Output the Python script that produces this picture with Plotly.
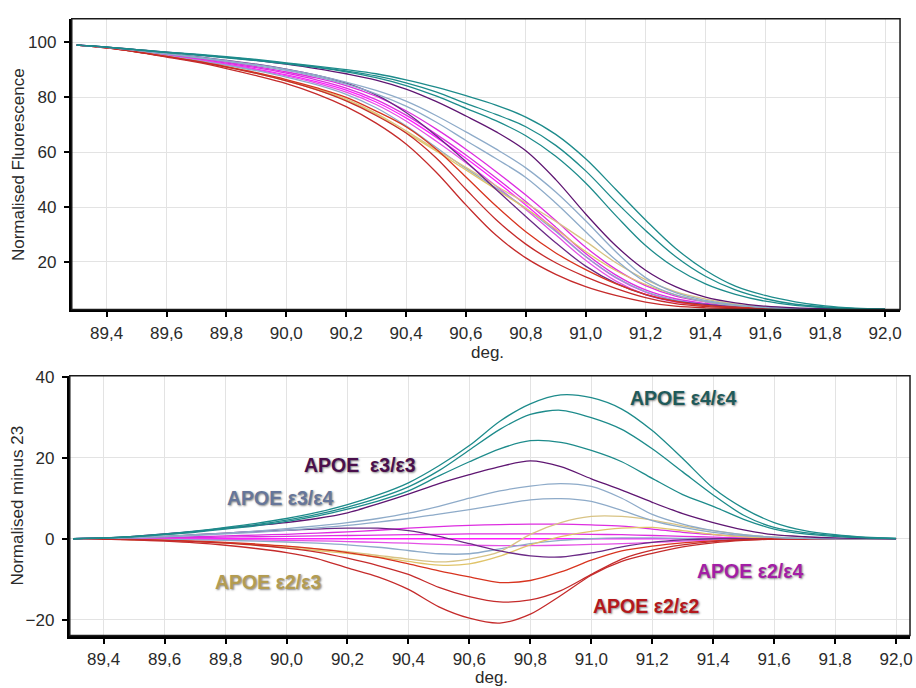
import plotly.graph_objects as go

# Melting temperature grid (deg.)
temps = [89.3, 89.4, 89.5, 89.6, 89.7, 89.8, 89.9, 90.0, 90.1, 90.2,
         90.3, 90.4, 90.5, 90.6, 90.7, 90.8, 90.9, 91.0, 91.1, 91.2,
         91.3, 91.4, 91.5, 91.6, 91.7, 91.8, 91.9, 92.0]

x_ticks = [89.4, 89.6, 89.8, 90.0, 90.2, 90.4, 90.6, 90.8, 91.0, 91.2,
           91.4, 91.6, 91.8, 92.0]
y_ticks_top = [20, 40, 60, 80, 100]
y_ticks_bottom = [-20, 0, 20, 40]

# ---- Normalised fluorescence (upper panel) ----
norm_e44_a = [99.0, 98.3, 97.4, 96.5, 95.7, 94.8, 93.8, 92.6, 91.4, 90.1, 88.6, 86.4, 83.7, 80.6,
              77.2, 72.8, 66.5, 57.6, 46.5, 35.3, 25.0, 17.0, 11.2, 7.8, 5.5, 4.0, 3.2, 2.8]
norm_e44_b = [99.0, 98.3, 97.4, 96.4, 95.6, 94.6, 93.6, 92.4, 91.1, 89.6, 87.8, 85.3, 82.0, 77.8,
              73.8, 69.3, 62.5, 53.2, 42.0, 31.5, 22.0, 14.8, 9.8, 6.6, 4.6, 3.6, 3.0, 2.8]
norm_e44_c = [99.0, 98.3, 97.3, 96.3, 95.4, 94.4, 93.4, 92.2, 90.9, 89.3, 87.2, 84.3, 80.5, 76.0,
              71.5, 66.0, 58.5, 48.8, 37.0, 26.0, 17.8, 12.0, 8.2, 5.7, 4.2, 3.4, 3.0, 2.7]
norm_e33_a = [99.0, 98.3, 97.4, 96.5, 95.6, 94.6, 93.5, 92.1, 90.5, 88.6, 86.3, 83.0, 78.5, 73.2,
              67.5, 60.5, 50.0, 37.5, 26.0, 17.0, 11.0, 7.2, 5.1, 3.9, 3.3, 3.0, 2.8, 2.7]
norm_e33_b = [99.0, 98.2, 97.1, 95.9, 94.8, 93.5, 92.1, 90.3, 88.1, 85.2, 80.9, 74.5, 66.1, 56.6,
              46.5, 36.6, 27.0, 18.5, 12.3, 8.1, 5.7, 4.5, 3.6, 3.2, 3.0, 2.9, 2.8, 2.7]
norm_e34_a = [99.0, 98.2, 97.1, 95.9, 94.7, 93.4, 91.9, 90.2, 88.1, 85.5, 82.5, 78.6, 73.4, 67.4,
              61.2, 54.3, 45.5, 35.0, 23.8, 14.3, 8.8, 6.0, 4.4, 3.5, 3.1, 2.9, 2.8, 2.7]
norm_e34_b = [99.0, 98.2, 97.1, 95.8, 94.5, 93.1, 91.6, 89.8, 87.6, 84.8, 81.3, 76.8, 71.0, 64.3,
              57.7, 50.8, 41.5, 31.0, 20.8, 12.7, 8.0, 5.6, 4.2, 3.4, 3.0, 2.9, 2.8, 2.7]
norm_e34_c = [99.0, 98.1, 96.7, 95.1, 93.5, 91.7, 89.7, 87.4, 84.6, 81.1, 76.2, 69.6, 61.8, 54.1,
              47.0, 39.6, 31.1, 22.0, 14.5, 9.2, 6.1, 4.5, 3.6, 3.2, 3.0, 2.9, 2.8, 2.7]
norm_e24_a = [99.0, 98.2, 97.0, 95.6, 94.3, 92.8, 91.2, 89.3, 87.1, 84.3, 80.4, 75.1, 68.5, 61.1,
              53.0, 44.4, 35.1, 25.4, 17.4, 11.4, 7.6, 5.5, 4.1, 3.4, 3.0, 2.9, 2.8, 2.7]
norm_e24_b = [99.0, 98.2, 96.9, 95.5, 94.1, 92.5, 90.8, 88.8, 86.4, 83.4, 79.2, 73.5, 66.6, 59.0,
              50.7, 42.0, 32.7, 23.1, 15.3, 9.8, 6.6, 4.9, 3.8, 3.3, 3.0, 2.9, 2.8, 2.7]
norm_e24_c = [99.0, 98.1, 96.8, 95.2, 93.7, 91.9, 90.0, 87.8, 85.2, 81.9, 77.4, 71.4, 64.1, 56.2,
              47.8, 39.1, 29.9, 20.6, 13.1, 8.1, 5.4, 4.2, 3.5, 3.2, 3.0, 2.9, 2.8, 2.7]
norm_ref23 = [99.0, 98.1, 96.8, 95.3, 93.8, 92.1, 90.3, 88.2, 85.7, 82.6, 78.3, 72.5, 65.5, 57.8,
              49.5, 40.8, 31.5, 22.0, 14.3, 9.0, 6.0, 4.5, 3.6, 3.2, 3.0, 2.9, 2.8, 2.7]
norm_e23_a = [99.0, 98.1, 96.6, 94.9, 93.1, 91.1, 88.9, 86.3, 83.2, 79.4, 74.2, 67.8, 61.0, 54.5,
              47.8, 41.5, 34.8, 27.5, 19.8, 13.6, 9.2, 6.5, 4.6, 3.6, 3.1, 2.9, 2.8, 2.7]
norm_e23_b = [99.0, 98.1, 96.6, 94.9, 93.1, 91.0, 88.7, 86.0, 82.8, 79.0, 73.8, 67.2, 60.5, 53.5,
              46.5, 39.5, 32.0, 23.8, 16.9, 11.8, 8.0, 5.6, 4.1, 3.4, 3.0, 2.9, 2.8, 2.7]
norm_e22_a = [99.0, 98.0, 96.5, 94.7, 92.8, 90.5, 87.9, 85.0, 81.3, 76.6, 70.6, 63.0, 52.8, 40.8,
              29.8, 21.5, 15.5, 11.0, 7.8, 5.4, 3.9, 3.3, 3.1, 3.0, 2.9, 2.8, 2.8, 2.7]
norm_e22_b = [99.0, 98.0, 96.6, 94.9, 93.1, 91.0, 88.7, 86.0, 82.8, 78.7, 73.4, 67.0, 58.0, 46.5,
              35.5, 26.5, 19.7, 14.6, 10.4, 7.0, 4.8, 3.8, 3.3, 3.1, 3.0, 2.9, 2.8, 2.7]
norm_e22_c = [99.0, 98.0, 96.6, 94.9, 93.2, 91.2, 89.0, 86.5, 83.5, 80.0, 75.0, 69.3, 61.2, 51.0,
              40.5, 31.0, 23.3, 17.2, 12.1, 8.2, 5.6, 4.2, 3.5, 3.2, 3.0, 2.9, 2.8, 2.7]

# ---- Normalised minus sample 23 (lower panel) ----
diff_e44_a = [0, 0.2, 0.6, 1.2, 1.9, 2.8, 3.8, 5.0, 6.5, 8.4, 10.8, 13.8, 18.0, 23.0,
              29.0, 33.3, 35.5, 34.8, 32.0, 26.7, 19.8, 12.5, 7.5, 4.0, 2.0, 1.0, 0.4, 0.1]
diff_e44_b = [0, 0.2, 0.6, 1.1, 1.8, 2.6, 3.5, 4.6, 6.0, 7.8, 10.0, 12.8, 16.8, 21.9,
              27.0, 30.7, 31.7, 29.9, 27.0, 22.2, 16.5, 10.8, 5.8, 2.8, 1.5, 0.8, 0.3, 0.1]
diff_e44_c = [0, 0.2, 0.5, 1.0, 1.6, 2.4, 3.2, 4.3, 5.6, 7.3, 9.3, 11.8, 15.5, 19.0,
              22.2, 24.2, 23.8, 21.8, 19.0, 14.9, 10.9, 8.0, 4.8, 2.4, 1.2, 0.6, 0.2, 0]
diff_e33_a = [0, 0.2, 0.6, 1.2, 1.8, 2.6, 3.3, 4.0, 5.0, 6.4, 8.6, 11.0, 13.6, 15.8,
              17.8, 19.2, 17.8, 14.8, 12.0, 9.0, 6.2, 4.0, 2.2, 1.0, 0.5, 0.2, 0.1, 0]
diff_e33_b = [0, 0.1, 0.3, 0.6, 1.0, 1.4, 1.8, 2.1, 2.4, 2.6, 2.6, 2.0, 0.6, -1.2,
              -3.0, -4.2, -4.5, -3.5, -2.0, -0.9, -0.3, 0, 0, 0, 0, 0, 0, 0]
diff_e34_a = [0, 0.1, 0.3, 0.6, 1.0, 1.4, 1.9, 2.5, 3.2, 4.0, 5.0, 6.3, 8.0, 10.0,
              11.8, 13.0, 13.6, 12.9, 10.0, 6.0, 3.6, 2.0, 1.0, 0.4, 0.1, 0, 0, 0]
diff_e34_b = [0, 0.1, 0.3, 0.5, 0.8, 1.2, 1.6, 2.1, 2.7, 3.3, 4.1, 5.0, 6.1, 7.2,
              8.4, 9.6, 9.9, 9.2, 7.0, 4.5, 2.8, 1.6, 0.8, 0.3, 0.1, 0, 0, 0]
diff_e34_c = [0, 0, -0.1, -0.2, -0.3, -0.4, -0.6, -0.8, -1.1, -1.5, -2.1, -2.9, -3.7, -3.7,
              -2.5, -1.2, -0.4, 0, 0.2, 0.2, 0.1, 0, 0, 0, 0, 0, 0, 0]
diff_e24_a = [0, 0.1, 0.2, 0.3, 0.5, 0.7, 0.9, 1.1, 1.4, 1.7, 2.1, 2.6, 3.0, 3.3,
              3.5, 3.6, 3.6, 3.4, 3.1, 2.4, 1.6, 1.0, 0.5, 0.2, 0, 0, 0, 0]
diff_e24_b = [0, 0.1, 0.1, 0.2, 0.3, 0.4, 0.5, 0.6, 0.7, 0.8, 0.9, 1.0, 1.1, 1.2,
              1.2, 1.2, 1.2, 1.1, 1.0, 0.8, 0.6, 0.4, 0.2, 0.1, 0, 0, 0, 0]
diff_e24_c = [0, 0, 0, -0.1, -0.1, -0.2, -0.3, -0.4, -0.5, -0.7, -0.9, -1.1, -1.4, -1.6,
              -1.7, -1.7, -1.6, -1.4, -1.2, -0.9, -0.6, -0.3, -0.1, 0, 0, 0, 0, 0]
diff_ref23 = [0, 0, 0, 0, 0, 0, 0, 0, 0, 0, 0, 0, 0, 0,
              0, 0, 0, 0, 0, 0, 0, 0, 0, 0, 0, 0, 0, 0]
diff_e23_a = [0, 0, -0.2, -0.4, -0.7, -1.0, -1.4, -1.9, -2.5, -3.2, -4.1, -5.0, -5.7, -5.0,
              -3.2, 1.1, 4.0, 5.5, 5.5, 4.6, 3.2, 2.0, 1.0, 0.4, 0.1, 0, 0, 0]
diff_e23_b = [0, 0, -0.2, -0.4, -0.7, -1.1, -1.6, -2.2, -2.9, -3.6, -4.5, -5.6, -6.5, -6.2,
              -4.3, -1.5, 0.5, 1.8, 2.6, 2.8, 2.0, 1.1, 0.5, 0.2, 0, 0, 0, 0]
diff_e22_a = [0, -0.1, -0.3, -0.6, -1.0, -1.6, -2.4, -3.4, -4.9, -7.2, -9.4, -12.5, -16.8, -19.6,
              -20.8, -18.6, -14.0, -9.0, -5.6, -3.6, -2.0, -1.0, -0.4, -0.1, 0, 0, 0, 0]
diff_e22_b = [0, -0.1, -0.2, -0.4, -0.7, -1.1, -1.6, -2.3, -3.3, -4.8, -6.6, -8.8, -12.0, -14.3,
              -15.6, -15.1, -12.8, -8.8, -5.0, -2.8, -1.5, -0.7, -0.3, -0.1, 0, 0, 0, 0]
diff_e22_c = [0, -0.1, -0.2, -0.4, -0.6, -0.9, -1.3, -1.8, -2.5, -3.4, -4.6, -6.2, -7.9, -9.4,
              -10.8, -10.3, -8.2, -5.3, -3.0, -1.8, -1.0, -0.5, -0.2, 0, 0, 0, 0, 0]

# Genotype labels placed in the difference plot
genotype_labels = ["APOE ε4/ε4", "APOE  ε3/ε3", "APOE ε3/ε4", "APOE ε2/ε3", "APOE ε2/ε4", "APOE ε2/ε2"]
label_x = [91.30, 90.24, 89.98, 89.94, 91.52, 91.18]
label_y = [34.7, 18.2, 10.0, -10.7, -8.0, -16.5]
label_colors = ["#1f5a5a", "#4a0f4c", "#66769a", "#b39c52", "#a21ea6", "#b4181c"]

TEAL = "#1d8b8b"
PURPLE = "#5f1672"
STEEL = "#8eabc9"
MAGENTA = "#dd2ee0"
PINK = "#ff1cff"
TAN = "#d8c384"
RED = "#c52b2b"
RED2 = "#d8341f"

# (upper series, lower series, colour) drawn back to front
series = [
    (norm_ref23, diff_ref23, PINK),
    (norm_e24_a, diff_e24_a, MAGENTA),
    (norm_e24_b, diff_e24_b, MAGENTA),
    (norm_e24_c, diff_e24_c, "#e451e6"),
    (norm_e34_c, diff_e34_c, STEEL),
    (norm_e23_a, diff_e23_a, TAN),
    (norm_e23_b, diff_e23_b, "#e0c46a"),
    (norm_e33_b, diff_e33_b, "#6b2a86"),
    (norm_e22_c, diff_e22_c, RED2),
    (norm_e22_b, diff_e22_b, RED),
    (norm_e22_a, diff_e22_a, RED),
    (norm_e34_b, diff_e34_b, STEEL),
    (norm_e34_a, diff_e34_a, STEEL),
    (norm_e33_a, diff_e33_a, PURPLE),
    (norm_e44_c, diff_e44_c, TEAL),
    (norm_e44_b, diff_e44_b, TEAL),
    (norm_e44_a, diff_e44_a, TEAL),
]

W, H = 916, 688
fig = go.Figure()

for top_vals, bottom_vals, col in series:
    fig.add_trace(go.Scatter(x=temps, y=top_vals, mode="lines", xaxis="x", yaxis="y",
                             line=dict(color=col, width=1.3, shape="spline", smoothing=1.0),
                             showlegend=False, hoverinfo="skip"))
    fig.add_trace(go.Scatter(x=temps, y=bottom_vals, mode="lines", xaxis="x2", yaxis="y2",
                             line=dict(color=col, width=1.3, shape="spline", smoothing=0.8),
                             showlegend=False, hoverinfo="skip"))

# plot-area pixel boxes (left, top, right, bottom)
top_box = (72, 11, 903, 305)
bot_box = (70, 372, 913, 635)


def dom_x(b):
    return [b[0] / W, b[2] / W]


def dom_y(b):
    return [1 - b[3] / H, 1 - b[1] / H]


axis_font = dict(family="Liberation Sans, Arial, sans-serif", size=17, color="#2a2a2a")

common_x = dict(tickmode="array", tickvals=x_ticks, tickformat=".1f", showgrid=True,
                gridcolor="#e3e3e3", gridwidth=1, zeroline=False, showline=True,
                linecolor="#000000", linewidth=3, ticks="outside", ticklen=5, tickwidth=2,
                tickcolor="#000000", tickfont=axis_font, ticklabelstandoff=1)
common_y = dict(tickmode="array", showgrid=True, gridcolor="#e3e3e3", gridwidth=1,
                zeroline=False, showline=True, linecolor="#000000", linewidth=3,
                ticks="outside", ticklen=5, tickwidth=2, tickcolor="#000000",
                tickfont=axis_font, ticklabelstandoff=4)

fig.update_layout(
    width=W, height=H,
    margin=dict(l=0, r=0, t=0, b=0),
    paper_bgcolor="white", plot_bgcolor="white",
    separators=",.",
    showlegend=False,
    xaxis=dict(common_x, domain=dom_x(top_box), range=[89.2835, 92.05], anchor="y"),
    yaxis=dict(common_y, domain=dom_y(top_box), range=[2.7, 108.6], tickvals=y_ticks_top,
               anchor="x"),
    xaxis2=dict(common_x, domain=dom_x(bot_box), range=[89.2888, 92.0458], anchor="y2"),
    yaxis2=dict(common_y, domain=dom_y(bot_box), range=[-23.9, 40.24], tickvals=y_ticks_bottom,
                anchor="x2"),
)

# thin frame on the open sides of each panel
for b in (top_box, bot_box):
    fig.add_shape(type="rect", xref="paper", yref="paper",
                  x0=b[0] / W, x1=b[2] / W, y0=1 - b[3] / H, y1=1 - b[1] / H,
                  line=dict(color="#1a1a1a", width=1.5), layer="above")

title_font = dict(family="Liberation Sans, Arial, sans-serif", size=17, color="#2a2a2a")
fig.add_annotation(text="Normalised Fluorescence", x=18 / W, y=1 - 158 / H, xref="paper",
                   yref="paper", textangle=-90, showarrow=False, font=title_font,
                   xanchor="center", yanchor="middle")
fig.add_annotation(text="Normalised minus 23", x=18 / W, y=1 - 503.5 / H, xref="paper",
                   yref="paper", textangle=-90, showarrow=False, font=title_font,
                   xanchor="center", yanchor="middle")
fig.add_annotation(text="deg.", x=489 / W, y=1 - 349 / H, xref="paper", yref="paper",
                   showarrow=False, font=title_font, xanchor="center", yanchor="middle")
fig.add_annotation(text="deg.", x=493 / W, y=1 - 677 / H, xref="paper", yref="paper",
                   showarrow=False, font=title_font, xanchor="center", yanchor="middle")

for txt, lx, ly, lc in zip(genotype_labels, label_x, label_y, label_colors):
    fig.add_annotation(text="<b>" + txt + "</b>", x=lx, y=ly, xref="x2", yref="y2",
                       showarrow=False, xanchor="center", yanchor="middle",
                       font=dict(family="Liberation Sans, Arial, sans-serif", size=19.5,
                                 color=lc, shadow="1px 1px 2px rgba(60,60,60,0.6)"))

fig.write_html("out.html")
